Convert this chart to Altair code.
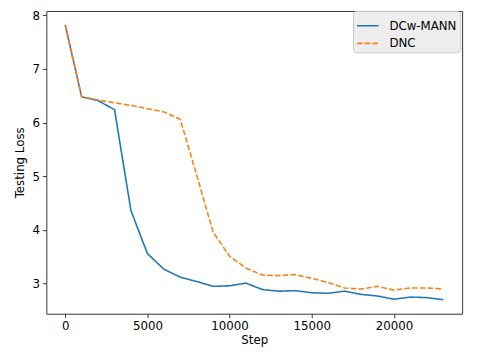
import altair as alt
import pandas as pd

steps = [i * 1000 for i in range(24)]
dcw_mann = [7.82, 6.48, 6.41, 6.24, 4.36, 3.56, 3.27, 3.12, 3.04, 2.95, 2.96, 3.01,
            2.89, 2.86, 2.87, 2.83, 2.82, 2.86, 2.80, 2.77, 2.71, 2.75, 2.74, 2.70]
dnc = [7.82, 6.48, 6.42, 6.37, 6.32, 6.26, 6.20, 6.06, 5.02, 3.96, 3.51, 3.29,
       3.16, 3.15, 3.17, 3.10, 3.02, 2.92, 2.90, 2.95, 2.88, 2.92, 2.92, 2.90]
series_names = ["DCw-MANN", "DNC"]
colors = ["#1f77b4", "#ff7f0e"]
x_ticks = [0, 5000, 10000, 15000, 20000]
y_ticks = [3, 4, 5, 6, 7, 8]

df = pd.DataFrame({
    "Step": steps * 2,
    "Loss": dcw_mann + dnc,
    "Series": [series_names[0]] * len(steps) + [series_names[1]] * len(steps),
})

font = "DejaVu Sans"
fs = 12

lines = alt.Chart(df).mark_line(strokeWidth=1.6, clip=True).encode(
    x=alt.X("Step:Q", title="Step",
            scale=alt.Scale(domain=[-1150, 24150], nice=False, zero=False),
            axis=alt.Axis(values=x_ticks, format="d", grid=False, tickSize=4,
                          labelFontSize=fs, titleFontSize=fs, labelFont=font,
                          titleFont=font, labelColor="black", titleColor="black",
                          domain=False, tickColor="#333", labelPadding=3,
                          titlePadding=3, titleFontWeight="normal", labelFlush=False)),
    y=alt.Y("Loss:Q", title="Testing Loss",
            scale=alt.Scale(domain=[2.44, 8.08], nice=False, zero=False),
            axis=alt.Axis(values=y_ticks, grid=False, tickSize=4,
                          labelFontSize=fs, titleFontSize=fs, labelFont=font,
                          titleFont=font, labelColor="black", titleColor="black",
                          domain=False, tickColor="#333", labelPadding=3,
                          titlePadding=6, titleFontWeight="normal", labelFlush=False)),
    color=alt.Color("Series:N", scale=alt.Scale(domain=series_names, range=colors),
                    legend=alt.Legend(title=None, orient="none", legendX=312, legendY=0,
                                      fillColor="#ededed", strokeColor="#c8c8c8",
                                      padding=3, cornerRadius=3, symbolType="stroke",
                                      symbolSize=484, symbolStrokeWidth=1.6,
                                      labelFontSize=fs, labelFont=font,
                                      labelColor="black", rowPadding=0,
                                      labelOffset=10)),
    strokeDash=alt.StrokeDash("Series:N",
                              scale=alt.Scale(domain=series_names, range=[[1, 0], [5.5, 2.4]]),
                              legend=None),
)

chart = lines.properties(
    width=423, height=308,
    autosize=alt.AutoSizeParams(type="none"),
    padding={"left": 39, "top": 0, "right": 7, "bottom": 40},
).configure_view(stroke="#333", strokeWidth=1)

chart.save("out.html", embed_options={"renderer": "svg", "actions": False})
